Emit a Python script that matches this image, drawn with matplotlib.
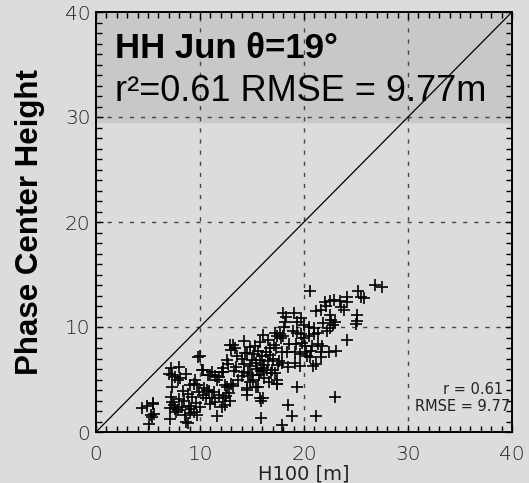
import matplotlib

matplotlib.use("Agg")
import matplotlib.pyplot as plt
from matplotlib.ticker import MultipleLocator

# H100 [m] vs phase center height
h100 = [
    4.4, 4.9, 5.5, 5.3, 5.6, 5.1, 5.4, 5.5,
    7.2, 8.0, 7.0, 7.6, 8.7, 7.3, 8.1, 9.8, 9.5, 9.0, 8.4, 8.8, 7.2, 7.3, 7.1, 7.7,
    7.9, 8.3, 8.9, 9.0, 9.4, 9.7, 8.8, 7.1, 9.4, 9.7, 8.7, 7.9, 7.3, 8.5, 7.5, 8.0,
    9.2, 9.6, 9.9, 7.6, 8.6, 9.1,
    10.0, 10.2, 10.8, 10.0, 10.3, 10.6, 11.0, 11.4, 11.3, 11.4, 11.8, 12.2, 12.4, 12.6,
    13.2, 12.1, 12.4, 12.9, 11.6, 12.6, 12.9, 13.4, 12.7, 12.2, 12.1, 10.3, 11.0, 11.6,
    11.2, 10.4, 10.9, 11.8, 12.2, 12.8, 13.0, 13.0, 13.2, 10.7, 11.2, 12.5,
    14.2, 14.5, 14.8, 13.5, 14.2, 14.0, 14.5, 14.5, 15.1, 15.4, 15.8, 16.1, 15.9, 16.1,
    16.7, 17.2, 17.4, 17.1, 14.0, 14.2, 14.3, 14.8, 15.0, 15.2, 15.4, 15.6, 15.8, 16.0,
    16.2, 16.3, 16.5, 16.7, 15.5, 15.9, 16.4, 14.6, 15.0, 15.7, 16.2, 16.8, 17.2, 17.4,
    17.4, 16.9, 15.6, 15.9, 14.5, 13.7, 13.3, 14.8, 17.0, 17.5, 16.6, 15.3, 15.8, 16.5,
    13.6, 16.1, 17.3,
    18.0, 18.2, 18.3, 19.0, 18.1, 19.3, 20.0, 20.5, 21.0, 17.7, 18.0, 17.8, 18.9, 19.3,
    19.7, 20.0, 20.5, 21.0, 21.3, 18.6, 19.2, 19.8, 20.1, 20.8, 21.3, 21.7, 17.9, 18.4,
    19.1, 19.6, 20.2, 20.7, 21.6, 22.4, 17.6, 17.9, 19.1, 20.3, 20.6, 21.6, 21.2, 20.9,
    18.5, 19.6, 17.4, 19.3, 18.5, 18.8, 17.9, 20.6, 19.7,
    22.0, 22.5, 22.9, 23.5, 24.1, 24.1, 21.2, 21.6, 22.1, 23.6, 23.8, 22.5, 22.6, 22.8,
    22.5, 23.0, 24.1, 23.1, 23.0, 21.2, 25.2, 25.5, 25.8, 25.1, 25.1, 25.0, 26.8, 27.5,
    22.2, 21.8,
]
phase_height = [
    2.3, 2.5, 2.8, 1.6, 1.7, 0.8, 1.4, 2.7,
    6.1, 6.2, 5.5, 5.2, 5.5, 4.3, 5.1, 7.1, 5.0, 4.5, 3.9, 3.6, 3.3, 2.9, 2.3, 1.9,
    2.1, 2.4, 2.5, 1.8, 1.9, 1.6, 0.9, 1.2, 4.6, 4.5, 1.0, 5.0, 5.4, 3.0, 2.6, 3.1,
    3.3, 2.8, 3.8, 2.2, 1.6, 2.2,
    7.2, 5.9, 5.4, 2.4, 3.5, 3.2, 2.7, 2.9, 3.8, 5.3, 5.2, 5.7, 4.5, 4.3,
    4.4, 2.4, 2.6, 3.0, 1.5, 6.9, 8.3, 8.0, 6.5, 6.1, 5.7, 5.9, 5.4, 5.0,
    5.7, 4.2, 3.9, 3.5, 3.2, 3.7, 4.6, 7.8, 8.3, 4.0, 3.2, 3.4,
    8.7, 7.5, 8.1, 6.2, 5.7, 5.3, 4.2, 3.5, 5.0, 4.3, 3.2, 3.2, 1.3, 9.2,
    8.0, 9.4, 9.1, 8.3, 7.0, 6.5, 7.5, 6.3, 6.9, 7.4, 6.6, 7.7, 6.9, 7.2,
    6.4, 7.6, 6.8, 7.3, 6.0, 5.8, 5.9, 5.6, 5.4, 5.4, 5.1, 5.6, 5.6, 5.0,
    4.6, 5.9, 4.3, 3.0, 4.0, 5.0, 5.8, 4.8, 7.0, 6.4, 4.8, 8.2, 8.6, 8.8,
    7.2, 6.1, 8.0,
    11.3, 10.5, 11.0, 11.3, 10.0, 10.5, 10.2, 10.0, 9.9, 9.3, 9.1, 9.0, 9.6, 9.4,
    9.3, 9.0, 9.1, 9.3, 9.4, 8.4, 8.4, 8.5, 8.2, 8.2, 8.4, 8.2, 7.6, 7.6,
    7.6, 7.4, 7.6, 7.7, 7.6, 7.6, 6.8, 6.6, 6.6, 7.2, 7.1, 7.1, 6.5, 6.3,
    6.2, 6.3, 4.6, 4.3, 2.6, 1.5, 0.7, 13.4, 10.9,
    12.4, 12.5, 12.6, 12.5, 12.9, 12.4, 11.5, 11.6, 12.0, 11.9, 11.6, 11.1, 10.7, 10.2,
    9.9, 10.5, 8.8, 7.7, 3.3, 1.5, 13.4, 12.9, 12.8, 11.1, 10.6, 10.3, 14.0, 13.8,
    9.6, 10.4,
]

title_line = "HH Jun θ=19°"
stats_line = "r²=0.61 RMSE = 9.77m"
corner_stats = ["r = 0.61", "RMSE = 9.77"]

BG = "#dcdcdc"

fig = plt.figure(figsize=(5.29, 4.83), dpi=100, facecolor=BG)
ax = fig.add_axes([96 / 529, 1 - 432 / 483, 416 / 529, 420 / 483])
ax.set_facecolor(BG)

ax.set_xlim(0, 40)
ax.set_ylim(0, 40)

# shaded header band behind the big labels
ax.axhspan(29.5, 40, color="#c8c8c8", zorder=0)

for v in (10, 20, 30):
    ax.axvline(v, color="#444444", lw=1.0, ls=(0, (3, 5)), zorder=1)
    ax.axhline(v, color="#444444", lw=1.0, ls=(0, (3, 5)), zorder=1)

ax.plot([0, 40], [0, 40], color="black", lw=0.9, zorder=2)
ax.plot(h100, phase_height, ls="none", marker="+", ms=8.5, mew=1.2, color="black", zorder=3)

ax.text(1.8, 35.6, title_line, fontsize=25, fontweight="bold",
        family="Liberation Sans", va="baseline", ha="left", zorder=4)
ax.text(1.8, 31.5, stats_line, fontsize=26,
        family="Liberation Sans", va="baseline", ha="left", zorder=4)

ax.text(39.1, 4.0, corner_stats[0], fontsize=10.5, ha="right", va="center",
        family="DejaVu Sans", color="#222222", zorder=4)
ax.text(39.8, 2.4, corner_stats[1], fontsize=10.5, ha="right", va="center",
        family="DejaVu Sans", color="#222222", zorder=4)

ax.xaxis.set_major_locator(MultipleLocator(10))
ax.yaxis.set_major_locator(MultipleLocator(10))
ax.xaxis.set_minor_locator(MultipleLocator(1))
ax.yaxis.set_minor_locator(MultipleLocator(1))
ax.tick_params(which="both", direction="in", top=True, right=True, width=1.0)
ax.tick_params(which="major", length=5)
ax.tick_params(which="minor", length=4)
ax.tick_params(axis="x", pad=9, labelsize=14.5, labelcolor="#222222")
ax.tick_params(axis="y", pad=4, labelsize=14.5, labelcolor="#222222")
for lab in ax.get_xticklabels() + ax.get_yticklabels():
    lab.set_fontweight("light")

for s in ax.spines.values():
    s.set_linewidth(1.4)

ax.set_xlabel("H100 [m]", fontsize=14, color="#222222")
ax.xaxis.set_label_coords(0.5, (432 - 465) / 420)
ax.set_ylabel("Phase Center Height", fontsize=22.5, fontweight="bold",
              family="Liberation Sans", labelpad=14)

fig.savefig("out.png", dpi=100, facecolor=BG)
